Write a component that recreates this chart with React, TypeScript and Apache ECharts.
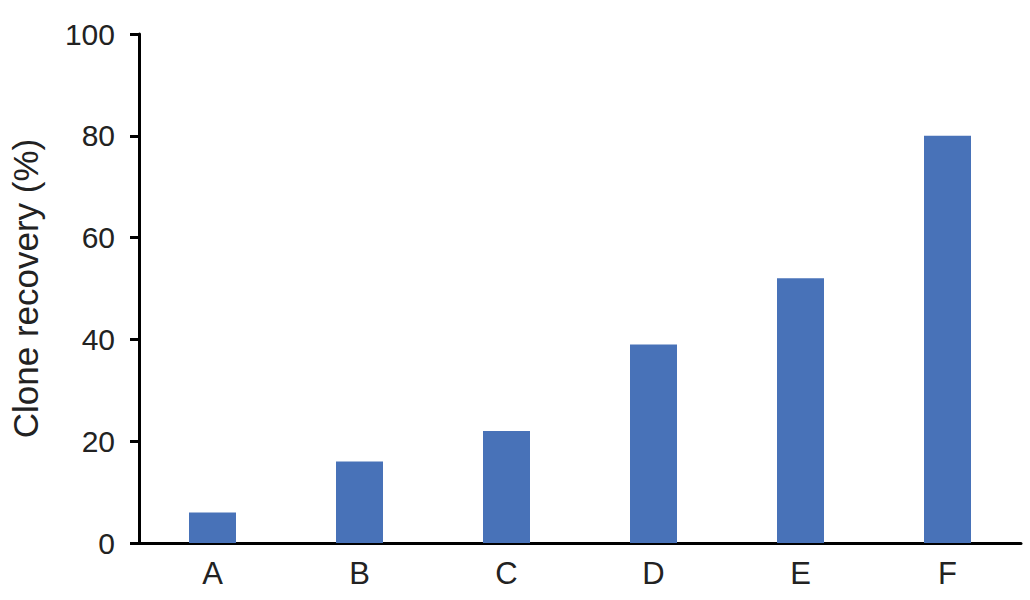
import React, { useEffect, useRef } from "react";
import * as echarts from "echarts";

const categories = ["A", "B", "C", "D", "E", "F"];
const recovery = [6, 16, 22, 39, 52, 80];
const yTicks = { min: 0, max: 100, interval: 20 };
const yTitle = "Clone recovery (%)";

export default function App() {
  const ref = useRef<HTMLDivElement>(null);
  useEffect(() => {
    const chart = echarts.init(ref.current!, null, { renderer: "svg" });
    chart.setOption({
      animation: false,
      textStyle: { fontFamily: "Liberation Sans, Arial, sans-serif" },
      grid: { left: 139, right: 9, top: 34, bottom: 57, outerBoundsMode: "none", containLabel: false },
      xAxis: {
        type: "category",
        data: categories,
        axisLine: { lineStyle: { color: "#000", width: 3 } },
        axisTick: { show: false },
        axisLabel: { fontSize: 31, color: "#222", margin: 15 },
      },
      yAxis: {
        type: "value",
        min: yTicks.min,
        max: yTicks.max,
        interval: yTicks.interval,
        name: yTitle,
        nameLocation: "middle",
        nameGap: 96,
        nameRotate: 90,
        nameTextStyle: { fontSize: 35, color: "#222" },
        splitLine: { show: false },
        axisLine: { show: true, lineStyle: { color: "#000", width: 3 } },
        axisTick: { show: true, length: 9, lineStyle: { color: "#000", width: 3 } },
        axisLabel: { fontSize: 30, color: "#222", margin: 24 },
      },
      series: [
        {
          type: "bar",
          data: recovery,
          barWidth: 47,
          itemStyle: { color: "#4872B8" },
        },
      ],
    });
    return () => chart.dispose();
  }, []);
  return (
    <div
      ref={ref}
      style={{ position: "fixed", left: 0, top: 0, width: 1030, height: 600, background: "#fff" }}
    />
  );
}
